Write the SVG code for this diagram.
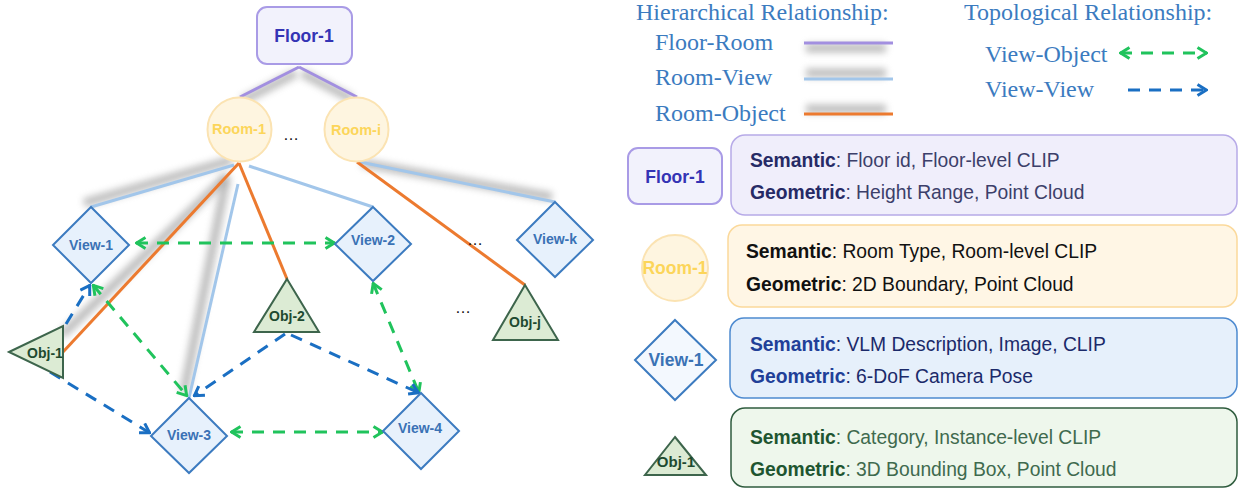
<svg xmlns="http://www.w3.org/2000/svg" width="1239" height="488" viewBox="0 0 1239 488">
<style>
.sans{font-family:"Liberation Sans",Arial,sans-serif}
.serif{font-family:"Liberation Serif","Times New Roman",serif;fill:#3b7bbf;font-size:24px}
.view{fill:#e7f1fc;stroke:#3c7bc0;stroke-width:2}
.viewt{font-family:"Liberation Sans",Arial,sans-serif;font-weight:bold;font-size:14px;fill:#3a72b5;text-anchor:middle}
.obj{fill:#dcebd4;stroke:#3d654c;stroke-width:2}
.objt{font-family:"Liberation Sans",Arial,sans-serif;font-weight:bold;font-size:14px;fill:#1e4a30;text-anchor:middle}
.room{fill:#fef5e0;stroke:#fbe3b2;stroke-width:2}
.roomt{font-family:"Liberation Sans",Arial,sans-serif;font-weight:bold;font-size:14.5px;fill:#fcd55a;text-anchor:middle}
.fr{stroke:#a28fe0;stroke-width:3;fill:none}
.rv{stroke:#a2c6ea;stroke-width:3;fill:none}
.ro{stroke:#ec7a2f;stroke-width:3;fill:none}
.sh{stroke:#808080;stroke-width:9;fill:none;opacity:0.5;filter:url(#blur)}
.g{stroke:#20c35c;stroke-width:3;stroke-dasharray:12 9;fill:none}
.b{stroke:#1a6fc3;stroke-width:3;stroke-dasharray:12 9;fill:none}
.card{font-family:"Liberation Sans",Arial,sans-serif;font-size:19.3px}
.dots{font-family:"Liberation Sans",Arial,sans-serif;font-size:16px;fill:#111}
</style>
<defs>
<filter id="blur" filterUnits="userSpaceOnUse" x="0" y="0" width="1239" height="488"><feGaussianBlur stdDeviation="3.5"/></filter>
<marker id="ga" viewBox="0 0 12 14" refX="11" refY="7" markerWidth="12" markerHeight="14" markerUnits="userSpaceOnUse" orient="auto-start-reverse"><path d="M1.5,1.5 L10.5,7 L1.5,12.5" fill="none" stroke="#20c35c" stroke-width="3"/></marker>
<marker id="ba" viewBox="0 0 12 14" refX="11" refY="7" markerWidth="12" markerHeight="14" markerUnits="userSpaceOnUse" orient="auto"><path d="M1.5,1.5 L10.5,7 L1.5,12.5" fill="none" stroke="#1a6fc3" stroke-width="3"/></marker>
</defs>

<g id="shadows">
<line class="sh" x1="296" y1="73" x2="242" y2="101" stroke-width="5"/>
<line class="sh" x1="302" y1="73" x2="352" y2="99" stroke-width="5"/>
<line class="sh" x1="232" y1="160" x2="84" y2="203"/>
<line class="sh" x1="228" y1="175" x2="62" y2="335"/>
<line class="sh" x1="226" y1="180" x2="184" y2="392"/>
<line class="sh" x1="362" y1="163" x2="552" y2="197"/>
<line class="sh" x1="806" y1="48" x2="886" y2="48"/>
<line class="sh" x1="806" y1="73" x2="886" y2="73"/>
<line class="sh" x1="806" y1="109" x2="886" y2="109"/>
</g>

<g id="connectors">
<line class="fr" x1="299" y1="67" x2="240" y2="97"/>
<line class="fr" x1="299" y1="67" x2="357" y2="97"/>
<line class="rv" x1="234" y1="165" x2="91" y2="207"/>
<line class="rv" x1="249" y1="166" x2="373" y2="207"/>
<line class="rv" x1="238" y1="184" x2="189" y2="398"/>
<line class="rv" x1="360" y1="162" x2="555" y2="202"/>
<line class="ro" x1="239" y1="163" x2="63" y2="352"/>
<line class="ro" x1="239" y1="163" x2="287" y2="279"/>
<line class="ro" x1="357" y1="162" x2="525" y2="285"/>
<line class="g" x1="136" y1="243" x2="335" y2="243" marker-start="url(#ga)" marker-end="url(#ga)"/>
<line class="g" x1="93" y1="285" x2="187" y2="396" marker-start="url(#ga)" marker-end="url(#ga)"/>
<line class="g" x1="373" y1="283" x2="419" y2="393" marker-start="url(#ga)" marker-end="url(#ga)"/>
<line class="g" x1="231" y1="432" x2="383" y2="432" marker-start="url(#ga)" marker-end="url(#ga)"/>
<line class="b" x1="66" y1="324" x2="90" y2="285" marker-end="url(#ba)"/>
<line class="b" x1="50" y1="372" x2="150" y2="433" marker-end="url(#ba)"/>
<line class="b" x1="285" y1="334" x2="194" y2="396" marker-end="url(#ba)"/>
<line class="b" x1="291" y1="335" x2="419" y2="393" marker-end="url(#ba)"/>
</g>

<g id="floor-1"><rect x="257" y="7" width="95" height="57" rx="10" fill="#f2f2fc" stroke="#a99be6" stroke-width="2"/><text x="304" y="42" class="sans" font-weight="bold" font-size="17.5" fill="#3434b5" text-anchor="middle">Floor-1</text></g>
<g id="room-1"><circle class="room" cx="239.5" cy="129.5" r="32"/><text class="roomt" x="239" y="134">Room-1</text></g>
<g id="room-i"><circle class="room" cx="356.5" cy="129.5" r="32"/><text class="roomt" x="356" y="135">Room-i</text></g>
<text class="dots" x="283" y="140">…</text>
<g id="view-1"><polygon class="view" points="91,207 129,245 91,283 53,245"/><text class="viewt" x="91" y="250">View-1</text></g>
<g id="view-2"><polygon class="view" points="373,207 411,244 373,281 335,244"/><text class="viewt" x="373" y="245">View-2</text></g>
<g id="view-3"><polygon class="view" points="189,398 227,436 189,473 151,436"/><text class="viewt" x="189" y="440">View-3</text></g>
<g id="view-4"><polygon class="view" points="421,393 459,431 421,469 383,431"/><text class="viewt" x="420" y="433">View-4</text></g>
<g id="view-k"><polygon class="view" points="555,202 593,240 555,277 517,240"/><text class="viewt" x="555" y="244">View-k</text></g>
<g id="obj-1"><polygon class="obj" points="9,352 63,326 63,378"/><text class="objt" x="45" y="358">Obj-1</text></g>
<g id="obj-2"><polygon class="obj" points="287,279 319,332 254,332"/><text class="objt" x="287" y="321">Obj-2</text></g>
<g id="obj-j"><polygon class="obj" points="525,285 558,340 493,340"/><text class="objt" x="525" y="327">Obj-j</text></g>
<text class="dots" x="467" y="245">…</text>
<text class="dots" x="455" y="313">…</text>

<g id="legend">
<text class="serif" x="636" y="20">Hierarchical Relationship:</text>
<text class="serif" x="655" y="50">Floor-Room</text>
<line class="fr" x1="804" y1="43" x2="893" y2="43"/>
<text class="serif" x="655" y="85">Room-View</text>
<line class="rv" x1="804" y1="79" x2="893" y2="79"/>
<text class="serif" x="655" y="121">Room-Object</text>
<line class="ro" x1="804" y1="114" x2="893" y2="114"/>
<text class="serif" x="964" y="20">Topological Relationship:</text>
<text class="serif" x="985" y="62">View-Object</text>
<line class="g" x1="1120" y1="53" x2="1207" y2="53" stroke-width="3.5" marker-start="url(#ga)" marker-end="url(#ga)"/>
<text class="serif" x="985" y="97">View-View</text>
<line class="b" x1="1128" y1="90" x2="1207" y2="90" stroke-width="3.5" marker-end="url(#ba)"/>
</g>

<g id="card-floor">
<rect x="628" y="148" width="94" height="56" rx="10" fill="#f2f2fc" stroke="#a99be6" stroke-width="2"/>
<text x="675" y="183" class="sans" font-weight="bold" font-size="17.5" fill="#3434b5" text-anchor="middle">Floor-1</text>
<rect x="731" y="135" width="506" height="80" rx="14" fill="#f0eefb" stroke="#b7aae8" stroke-width="1.5"/>
<text class="card" x="750" y="167" fill="#3c3f6a"><tspan font-weight="bold" fill="#262a66">Semantic</tspan>: Floor id, Floor-level CLIP</text>
<text class="card" x="750" y="199" fill="#3c3f6a"><tspan font-weight="bold" fill="#262a66">Geometric</tspan>: Height Range, Point Cloud</text>
</g>
<g id="card-room">
<circle class="room" cx="675" cy="268" r="33"/>
<text class="roomt" x="675" y="274" style="font-size:17.5px">Room-1</text>
<rect x="728" y="225" width="509" height="82" rx="14" fill="#fff6e5" stroke="#fbd99b" stroke-width="1.5"/>
<text class="card" x="746" y="258" fill="#111"><tspan font-weight="bold">Semantic</tspan>: Room Type, Room-level CLIP</text>
<text class="card" x="746" y="291" fill="#111"><tspan font-weight="bold">Geometric</tspan>: 2D Boundary, Point Cloud</text>
</g>
<g id="card-view">
<polygon points="675,320 716,360 675,400 635,360" fill="#f3f8fe" stroke="#3c7bc0" stroke-width="2"/>
<text class="viewt" x="676" y="366" style="font-size:17.5px">View-1</text>
<rect x="730" y="318" width="507" height="80" rx="14" fill="#e6f0fb" stroke="#4d8ad0" stroke-width="1.5"/>
<text class="card" x="750" y="351" fill="#1b2a6a"><tspan font-weight="bold" fill="#213f98">Semantic</tspan>: VLM Description, Image, CLIP</text>
<text class="card" x="750" y="383" fill="#1b2a6a"><tspan font-weight="bold" fill="#213f98">Geometric</tspan>: 6-DoF Camera Pose</text>
</g>
<g id="card-obj">
<polygon points="675,437 706,475 645,475" class="obj"/>
<text class="objt" x="676" y="467" style="font-size:15px">Obj-1</text>
<rect x="731" y="408" width="506" height="79" rx="14" fill="#eef7ec" stroke="#2f5c3e" stroke-width="1.5"/>
<text class="card" x="750" y="444" fill="#3f6a4e"><tspan font-weight="bold" fill="#1e5530">Semantic</tspan>: Category, Instance-level CLIP</text>
<text class="card" x="750" y="476" fill="#3f6a4e"><tspan font-weight="bold" fill="#1e5530">Geometric</tspan>: 3D Bounding Box, Point Cloud</text>
</g>
</svg>
